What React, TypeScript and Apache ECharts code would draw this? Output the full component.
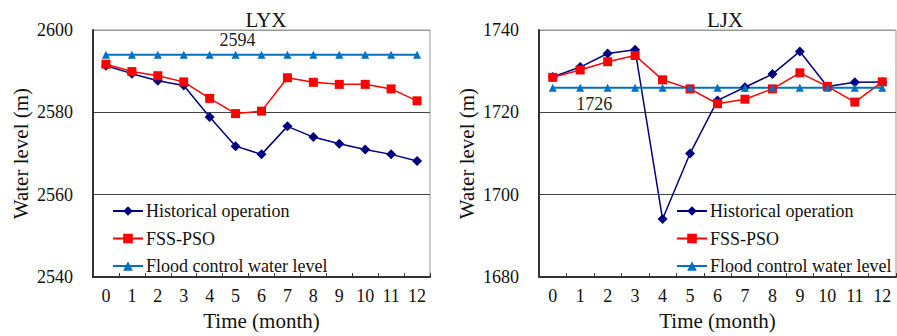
import React, { useEffect, useRef } from "react";
import * as echarts from "echarts";

const months = ["0", "1", "2", "3", "4", "5", "6", "7", "8", "9", "10", "11", "12"];

const lyxHistorical = [2591.3, 2589.4, 2587.7, 2586.5, 2578.9, 2571.8, 2569.8, 2576.6, 2574.0, 2572.4, 2571.0, 2569.8, 2568.2];
const lyxFssPso = [2591.7, 2589.9, 2588.9, 2587.4, 2583.4, 2579.7, 2580.3, 2588.4, 2587.3, 2586.8, 2586.8, 2585.7, 2582.8];
const lyxFlood = [2594, 2594, 2594, 2594, 2594, 2594, 2594, 2594, 2594, 2594, 2594, 2594, 2594];

const ljxHistorical = [1728.6, 1731.0, 1734.3, 1735.2, 1694.1, 1710.0, 1722.9, 1726.1, 1729.3, 1734.8, 1726.3, 1727.3, 1727.4];
const ljxFssPso = [1728.5, 1730.3, 1732.3, 1733.8, 1727.9, 1725.7, 1722.1, 1723.2, 1725.7, 1729.6, 1726.3, 1722.5, 1727.4];
const ljxFlood = [1726, 1726, 1726, 1726, 1726, 1726, 1726, 1726, 1726, 1726, 1726, 1726, 1726];

const seriesNames = ["Historical operation", "FSS-PSO", "Flood control water level"];
const FONT = "'Liberation Serif', 'Times New Roman', serif";
const NAVY = "#000080";
const RED = "#ff0000";
const BLUE = "#0070c0";

const txt = (fontSize: number, extra: any = {}) => ({
  fontFamily: FONT,
  fontSize,
  fontWeight: "normal",
  fontStyle: "normal",
  color: "#111",
  ...extra,
});

export default function App() {
  const ref = useRef<HTMLDivElement>(null);

  useEffect(() => {
    if (!ref.current) return;
    const chart = echarts.init(ref.current, undefined, { renderer: "svg" });

    const xAxis = (gridIndex: number) => ({
      type: "category",
      gridIndex,
      data: months,
      boundaryGap: true,
      name: "Time (month)",
      nameLocation: "middle",
      nameGap: 21,
      nameTextStyle: txt(21),
      axisLine: { show: true, lineStyle: { color: "#333", width: 2 } },
      axisTick: { show: true, inside: true, length: 4, lineStyle: { color: "#333" } },
      axisLabel: txt(18, { margin: 10 }),
      splitLine: { show: false },
    });

    const yAxis = (gridIndex: number, min: number, max: number) => ({
      type: "value",
      gridIndex,
      min,
      max,
      interval: 20,
      name: "Water level (m)",
      nameLocation: "middle",
      nameGap: 62,
      nameTextStyle: txt(21),
      axisLine: { show: true, lineStyle: { color: "#333", width: 2 } },
      axisTick: { show: false },
      axisLabel: txt(18, { margin: 20, formatter: (v: number) => String(v) }),
      splitLine: { show: true, lineStyle: { color: ["#444", "#444", "#444", "#999"], width: 1 } },
    });

    const makeSeries = (idx: number, hist: number[], fss: number[], flood: number[], labelIdx: number, labelPos: string, labelOffset: number[]) => [
      {
        name: seriesNames[0],
        type: "line",
        xAxisIndex: idx,
        yAxisIndex: idx,
        data: hist,
        symbol: "diamond",
        symbolSize: 10,
        itemStyle: { color: NAVY },
        lineStyle: { color: NAVY, width: 1.5 },
      },
      {
        name: seriesNames[1],
        type: "line",
        xAxisIndex: idx,
        yAxisIndex: idx,
        data: fss,
        symbol: "rect",
        symbolSize: 9,
        itemStyle: { color: RED },
        lineStyle: { color: RED, width: 1.5 },
      },
      {
        name: seriesNames[2],
        type: "line",
        xAxisIndex: idx,
        yAxisIndex: idx,
        data: flood.map((v, i) =>
          i === labelIdx
            ? {
                value: v,
                label: txt(18, {
                  show: true,
                  position: labelPos,
                  offset: labelOffset,
                  formatter: String(v),
                  color: "#222",
                }),
              }
            : v
        ),
        symbol: "triangle",
        symbolSize: 8,
        itemStyle: { color: BLUE },
        lineStyle: { color: BLUE, width: 2 },
      },
    ];

    const legend = (left: number) => ({
      data: seriesNames,
      orient: "vertical",
      left,
      top: 197,
      itemWidth: 30,
      itemHeight: 12,
      itemGap: 9.5,
      textStyle: txt(18, { lineHeight: 18, padding: [0, 0, 0, -2] }),
    });

    chart.setOption({
      animation: false,
      backgroundColor: "#fff",
      textStyle: txt(18),
      title: [
        { text: "LYX", left: 261, top: 4, textAlign: "center", textStyle: txt(21) },
        { text: "LJX", left: 720, top: 4, textAlign: "center", textStyle: txt(21) },
      ],
      legend: [legend(107), legend(671)],
      grid: [
        { left: 93, top: 30, width: 337, height: 248, show: true, borderColor: "#999", borderWidth: 1, backgroundColor: "transparent" },
        { left: 539, top: 30, width: 357, height: 248, show: true, borderColor: "#999", borderWidth: 1, backgroundColor: "transparent" },
      ],
      xAxis: [xAxis(0), xAxis(1)],
      yAxis: [yAxis(0, 2540, 2600), yAxis(1, 1680, 1740)],
      series: [
        ...makeSeries(0, lyxHistorical, lyxFssPso, lyxFlood, 5, "top", [2, 3]),
        ...makeSeries(1, ljxHistorical, ljxFssPso, ljxFlood, 1, "bottom", [14, -2]),
      ],
    });

    return () => chart.dispose();
  }, []);

  return (
    <div
      ref={ref}
      style={{ position: "fixed", left: 0, top: 0, width: 897, height: 336, background: "#fff" }}
    />
  );
}
